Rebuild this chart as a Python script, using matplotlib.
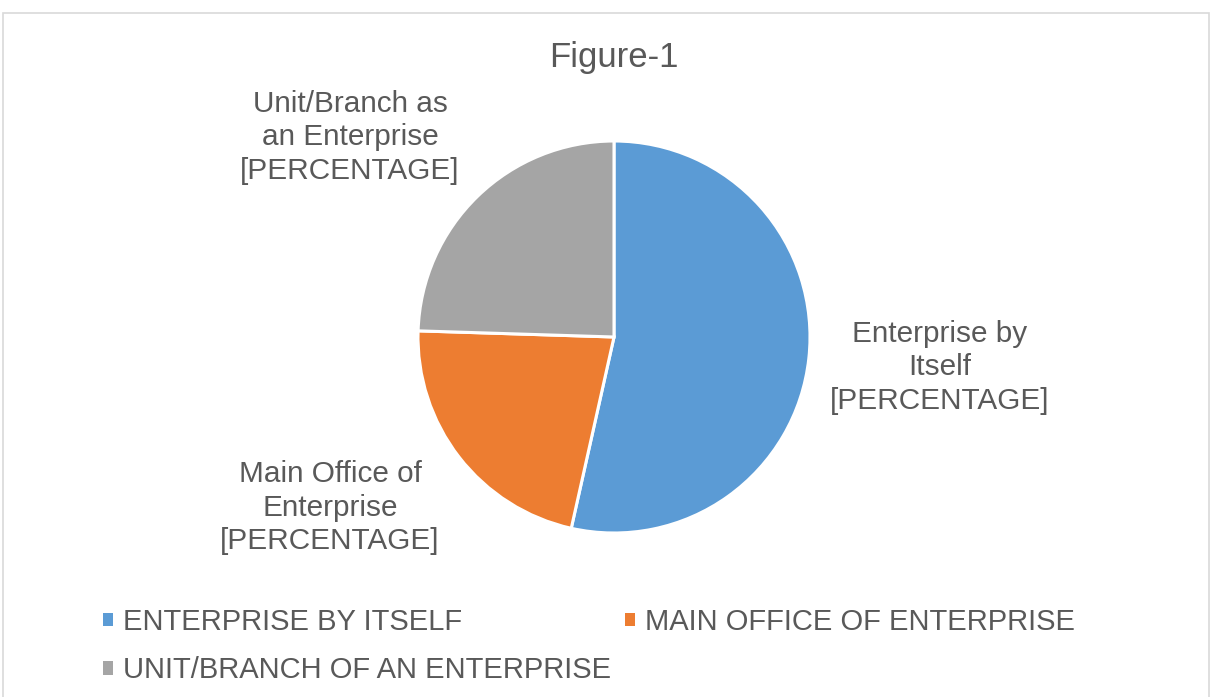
import matplotlib
matplotlib.use("Agg")
import matplotlib.pyplot as plt
from matplotlib.patches import Patch, Rectangle

plt.rcParams['font.family'] = ['Liberation Sans', 'DejaVu Sans']

categories = ["ENTERPRISE BY ITSELF", "MAIN OFFICE OF ENTERPRISE", "UNIT/BRANCH OF AN ENTERPRISE"]
values = [53.5, 22.0, 24.5]
data_labels = ["Enterprise by\nItself\n[PERCENTAGE]",
               "Main Office of\nEnterprise\n[PERCENTAGE]",
               "Unit/Branch as\nan Enterprise\n[PERCENTAGE]"]
colors = ["#5B9BD5", "#ED7D31", "#A5A5A5"]
title = "Figure-1"

W, H = 1213, 697
fig = plt.figure(figsize=(W / 100, H / 100), dpi=100)
fig.patch.set_facecolor("white")

# border
fig.patches.append(Rectangle((3 / W, -0.01), (1209 - 3) / W, (H - 13) / H + 0.01,
                             transform=fig.transFigure, fill=False,
                             edgecolor="#D9D9D9", linewidth=1.2))

cx, cy, r = 614, 337, 196
ax = fig.add_axes([0, 0, 1, 1])

wedges, _ = ax.pie(values, colors=colors, startangle=90, counterclock=False,
                   radius=1.0, wedgeprops=dict(edgecolor="white", linewidth=2.2))
ax.set_aspect("auto")
ax.set_xlim(-cx / r, (W - cx) / r)
ax.set_ylim(-(H - cy) / r, cy / r)
ax.axis("off")

txt_color = "#595959"
label_pos = [(1.663, -0.155), (-1.449, -0.87), (-1.347, 1.02)]
for (lx, ly), t in zip(label_pos, data_labels):
    ax.text(lx, ly, t, ha="center", va="center", fontsize=21.4, color=txt_color,
            linespacing=1.25)

fig.text(614 / W, 1 - 57 / H, title, ha="center", va="center", fontsize=25, color=txt_color)

handles = [Patch(facecolor=c, edgecolor="none") for c in colors]
order = [0, 2, 1]
leg = fig.legend([handles[i] for i in order], [categories[i] for i in order],
                 loc="upper left", bbox_to_anchor=(103 / W, 1 - 608 / H),
                 ncol=2, frameon=False, fontsize=21, handlelength=0.35, handleheight=0.35,
                 handletextpad=0.35, columnspacing=0.45, labelspacing=0.69,
                 borderpad=0, borderaxespad=0)
for t in leg.get_texts():
    t.set_color(txt_color)

fig.savefig("out.png", dpi=100)
